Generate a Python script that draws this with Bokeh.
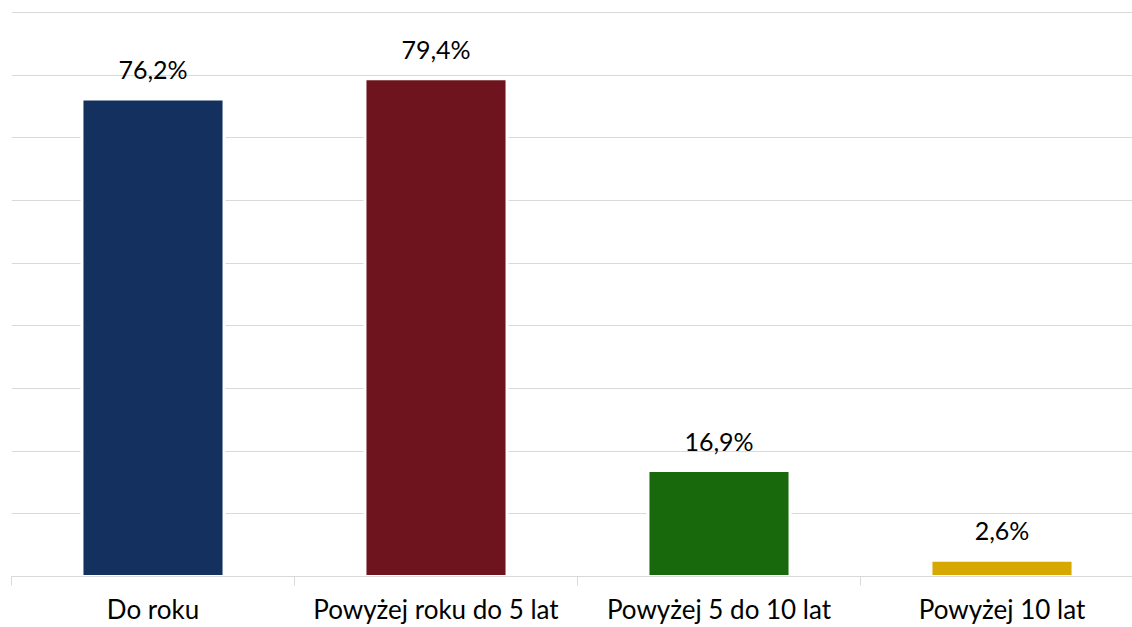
from bokeh.plotting import figure
from bokeh.models import ColumnDataSource, Range1d, FixedTicker
from bokeh.core.properties import value
from bokeh.embed import file_html
from bokeh.resources import INLINE

categories = ["Do roku", "Powyżej roku do 5 lat", "Powyżej 5 do 10 lat", "Powyżej 10 lat"]
values = [76.2, 79.4, 16.9, 2.6]
colors = ["#14305F", "#6E141E", "#17690C", "#D6A800"]
grid_ticks = [0, 10, 20, 30, 40, 50, 60, 70, 80, 90]

xs = [i + 0.5 for i in range(len(categories))]
labels = [f"{v:.1f}".replace(".", ",") + "%" for v in values]

src = ColumnDataSource(dict(x=xs, top=values, color=colors, label=labels, cat=categories))

W, H = 1132, 627
p = figure(width=W, height=H, output_backend="svg", toolbar_location=None,
           x_range=Range1d(0, 1121 / 283.0), y_range=Range1d(0, 90.3),
           min_border_left=11, min_border_right=0, min_border_top=10, min_border_bottom=0)
p.outline_line_color = None
p.background_fill_color = "white"
p.border_fill_color = "white"

p.vbar(x="x", top="top", bottom=0, width=0.502, fill_color="color",
       line_color="white", line_width=3, source=src)

p.text(x="x", y="top", text="label", source=src, text_align="center",
       text_baseline="alphabetic", y_offset=-30,
       text_font=value("Lato"), text_font_size=value("25px"), text_color="#000000")

p.yaxis.visible = False
p.xgrid.visible = False
p.ygrid.ticker = FixedTicker(ticks=grid_ticks)
p.ygrid.grid_line_color = "#D9D9D9"
p.ygrid.grid_line_width = 1

ax = p.xaxis[0]
ax.ticker = FixedTicker(ticks=xs, minor_ticks=[0, 1, 2, 3, 4])
ax.major_label_overrides = {x: c for x, c in zip(xs, categories)}
ax.major_tick_line_color = None
ax.major_tick_out = 0
ax.major_tick_in = 0
ax.minor_tick_line_color = "#D9D9D9"
ax.minor_tick_out = 9
ax.minor_tick_in = 0
ax.axis_line_color = "#D9D9D9"
ax.axis_line_width = 1
ax.major_label_standoff = 7
ax.major_label_text_font = "Lato"
ax.major_label_text_font_size = "26px"
ax.major_label_text_color = "#000000"

open("out.html", "w").write(file_html(p, INLINE))
